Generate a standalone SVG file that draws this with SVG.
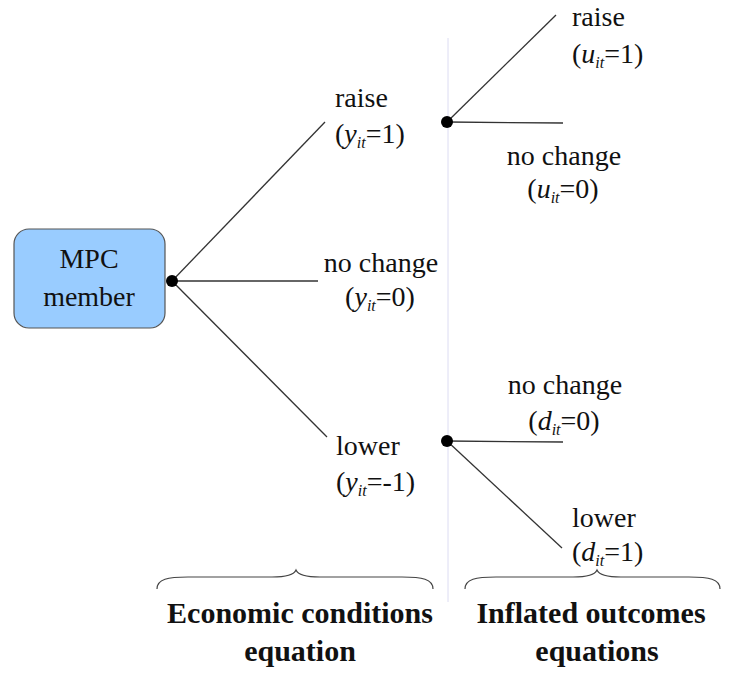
<svg xmlns="http://www.w3.org/2000/svg" width="732" height="675" viewBox="0 0 732 675">
<style>
.t{font-family:'Liberation Serif','Tinos','Noto Serif','DejaVu Serif','Times New Roman',Times,serif;font-size:28px;fill:#111}
.i{font-style:italic}
.s{font-style:italic;font-size:16px}
.b{font-family:'Liberation Serif','Tinos','Noto Serif','DejaVu Serif','Times New Roman',Times,serif;font-size:30px;font-weight:bold;fill:#111}
.ln{stroke:#333;stroke-width:1.3;fill:none}
.br{stroke:#444;stroke-width:1.2;fill:none}
</style>
<rect width="732" height="675" fill="#fff"/>
<line x1="448" y1="38" x2="448" y2="602" stroke="#dcdcf2" stroke-width="1"/>
<g id="connectors">
<line class="ln" x1="172" y1="281" x2="325" y2="122"/>
<line class="ln" x1="172" y1="281" x2="318" y2="281"/>
<line class="ln" x1="172" y1="281" x2="327" y2="437"/>
<line class="ln" x1="447" y1="122" x2="556" y2="15"/>
<line class="ln" x1="447" y1="122" x2="563" y2="123"/>
<line class="ln" x1="447" y1="441" x2="563" y2="442"/>
<line class="ln" x1="447" y1="441" x2="562" y2="548"/>
</g>
<g id="mpc">
<rect x="14" y="229" width="151" height="99" rx="15" fill="#99ccff" stroke="#555" stroke-width="1.2"/>
<text class="t" x="89" y="268" text-anchor="middle">MPC</text>
<text class="t" x="89" y="306" text-anchor="middle">member</text>
</g>
<g id="dot1"><circle cx="172" cy="281" r="6" fill="#000"/></g>
<g id="dot2"><circle cx="447" cy="122" r="6" fill="#000"/></g>
<g id="dot3"><circle cx="447" cy="441" r="6" fill="#000"/></g>
<g id="y-raise">
<text class="t" x="335" y="107">raise</text>
<text class="t" x="335" y="143">(<tspan class="i">y</tspan><tspan class="s" dy="5">it</tspan><tspan dy="-5">=1)</tspan></text>
</g>
<g id="y-nochange">
<text class="t" x="381" y="272" text-anchor="middle">no change</text>
<text class="t" x="380" y="306" text-anchor="middle">(<tspan class="i">y</tspan><tspan class="s" dy="5">it</tspan><tspan dy="-5">=0)</tspan></text>
</g>
<g id="y-lower">
<text class="t" x="336" y="455">lower</text>
<text class="t" x="336" y="491">(<tspan class="i">y</tspan><tspan class="s" dy="5">it</tspan><tspan dy="-5">=-1)</tspan></text>
</g>
<g id="u-raise">
<text class="t" x="572" y="26">raise</text>
<text class="t" x="572" y="63">(<tspan class="i">u</tspan><tspan class="s" dy="5">it</tspan><tspan dy="-5">=1)</tspan></text>
</g>
<g id="u-nochange">
<text class="t" x="564" y="165" text-anchor="middle">no change</text>
<text class="t" x="563" y="198" text-anchor="middle">(<tspan class="i">u</tspan><tspan class="s" dy="5">it</tspan><tspan dy="-5">=0)</tspan></text>
</g>
<g id="d-nochange">
<text class="t" x="565" y="394" text-anchor="middle">no change</text>
<text class="t" x="564" y="430" text-anchor="middle">(<tspan class="i">d</tspan><tspan class="s" dy="5">it</tspan><tspan dy="-5">=0)</tspan></text>
</g>
<g id="d-lower">
<text class="t" x="572" y="527">lower</text>
<text class="t" x="572" y="561">(<tspan class="i">d</tspan><tspan class="s" dy="5">it</tspan><tspan dy="-5">=1)</tspan></text>
</g>
<g id="brace-left">
<path class="br" d="M157,589 C157,579 168,577 188,577 L272,577 C287,577 294,575 296,570 C298,575 305,577 320,577 L402,577 C422,577 433,579 433,589"/>
<text class="b" x="300" y="623" text-anchor="middle">Economic conditions</text>
<text class="b" x="300" y="661" text-anchor="middle">equation</text>
</g>
<g id="brace-right">
<path class="br" d="M465,589 C465,579 476,577 496,577 L573,577 C588,577 595,575 597,570 C599,575 606,577 621,577 L689,577 C709,577 720,579 720,589"/>
<text class="b" x="591" y="623" text-anchor="middle">Inflated outcomes</text>
<text class="b" x="597" y="661" text-anchor="middle">equations</text>
</g>
</svg>
